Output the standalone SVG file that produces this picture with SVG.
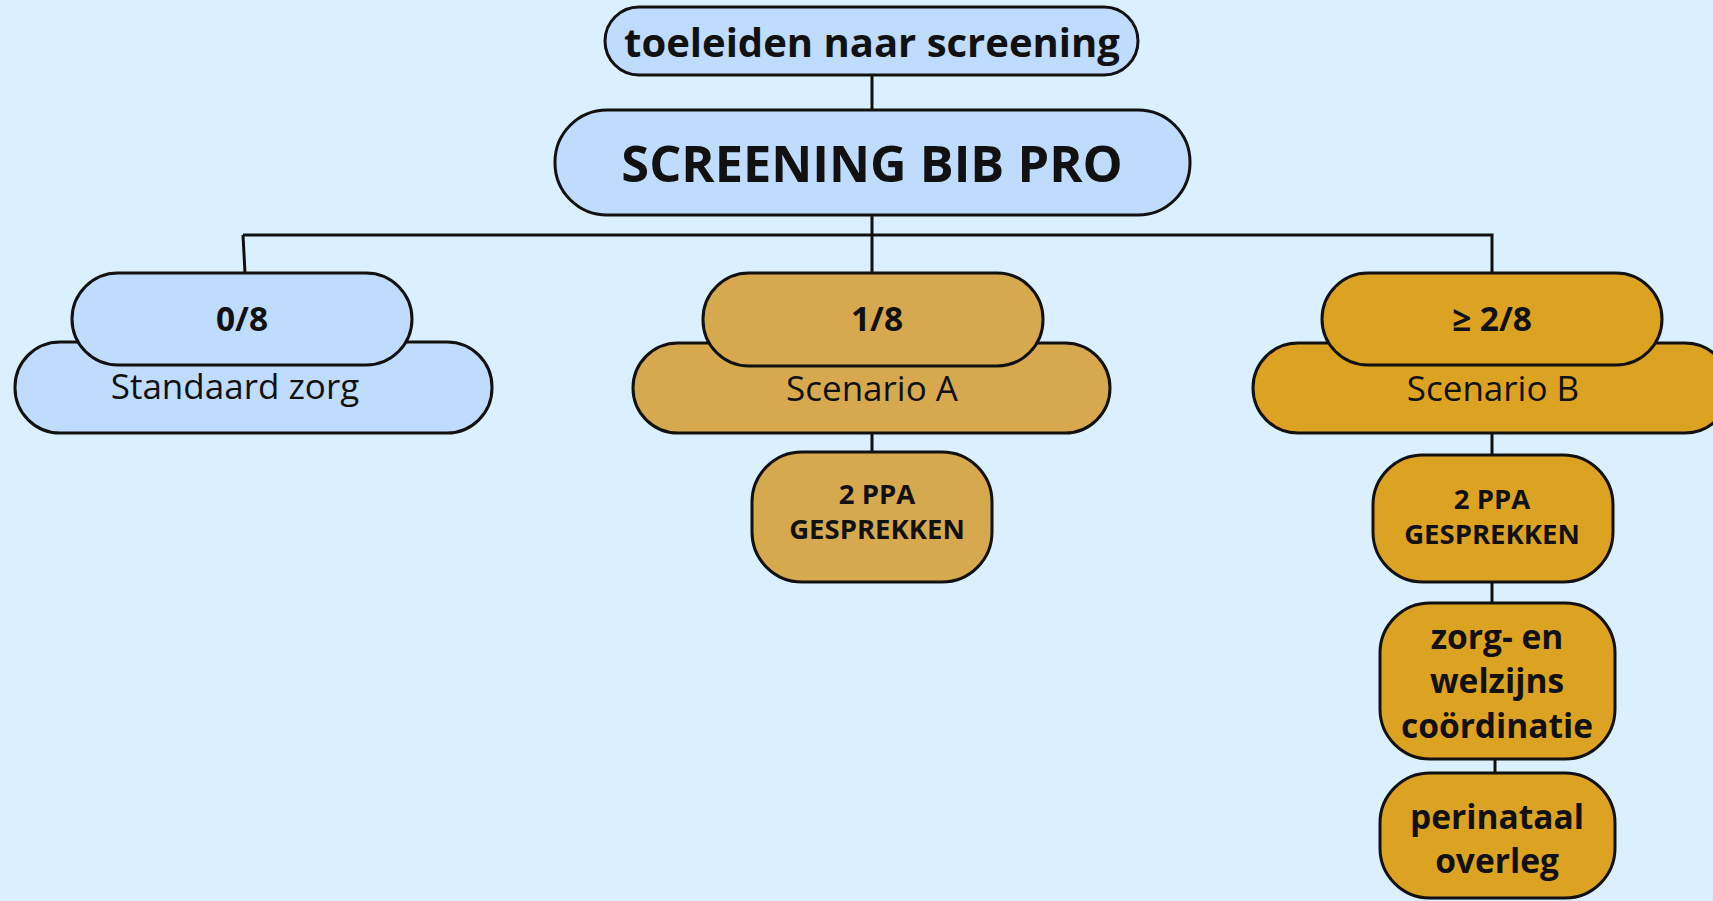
<svg xmlns="http://www.w3.org/2000/svg" width="1713" height="901" viewBox="0 0 1713 901">
<style>
.bg{fill:#daf0fe}
.blue{fill:#bfdbfd;stroke:#111;stroke-width:3}
.gA{fill:#d6a94f;stroke:#111;stroke-width:3}
.gB{fill:#dca221;stroke:#111;stroke-width:3}
.ln{fill:none;stroke:#111;stroke-width:3}
text{font-family:"Open Sans","Noto Sans","DejaVu Sans",sans-serif;fill:#111;text-anchor:middle}
.b{font-weight:700}
.r{font-weight:400}
</style>
<rect class="bg" x="0" y="0" width="1713" height="901"/>
<g id="connectors">
<path class="ln" d="M872 75V110"/>
<path class="ln" d="M872 215V235"/>
<path class="ln" d="M243 235H1492V273"/>
<path class="ln" d="M243 235L245 273"/>
<path class="ln" d="M872 235V273"/>
<path class="ln" d="M872 433V452"/>
<path class="ln" d="M1492 433V455"/>
<path class="ln" d="M1492 582V603"/>
<path class="ln" d="M1495 759V773"/>
</g>
<g id="node-toeleiden">
<rect class="blue" x="605" y="7" width="533" height="68" rx="34"/>
<text class="b" x="872" y="57" font-size="40">toeleiden naar screening</text>
</g>
<g id="node-screening">
<rect class="blue" x="555" y="110" width="635" height="105" rx="52"/>
<text class="b" x="872" y="182" font-size="50.5">SCREENING BIB PRO</text>
</g>
<g id="node-standaard">
<rect class="blue" x="15" y="342" width="477" height="91" rx="45"/>
<text class="r" x="235" y="399" font-size="35">Standaard zorg</text>
</g>
<g id="node-08">
<rect class="blue" x="72" y="273" width="340" height="92" rx="46"/>
<text class="b" x="242" y="331" font-size="33.5">0/8</text>
</g>
<g id="node-scenarioA">
<rect class="gA" x="633" y="343" width="477" height="90" rx="45"/>
<text class="r" x="872" y="401" font-size="35">Scenario A</text>
</g>
<g id="node-18">
<rect class="gA" x="703" y="273" width="340" height="93" rx="46"/>
<text class="b" x="877" y="331" font-size="33.5">1/8</text>
</g>
<g id="node-ppaA">
<rect class="gA" x="752" y="452" width="240" height="130" rx="50"/>
<text class="b" x="877" y="504" font-size="27.5">2 PPA</text>
<text class="b" x="877" y="539" font-size="27.5">GESPREKKEN</text>
</g>
<g id="node-scenarioB">
<rect class="gB" x="1253" y="343" width="477" height="90" rx="45"/>
<text class="r" x="1493" y="401" font-size="35">Scenario B</text>
</g>
<g id="node-28">
<rect class="gB" x="1322" y="273" width="340" height="92" rx="46"/>
<text class="b" x="1492" y="331" font-size="33.5">≥ 2/8</text>
</g>
<g id="node-ppaB">
<rect class="gB" x="1373" y="455" width="240" height="127" rx="50"/>
<text class="b" x="1492" y="509" font-size="27.5">2 PPA</text>
<text class="b" x="1492" y="544" font-size="27.5">GESPREKKEN</text>
</g>
<g id="node-zorg">
<rect class="gB" x="1380" y="603" width="235" height="156" rx="50"/>
<text class="b" x="1497" y="649" font-size="33.5">zorg- en</text>
<text class="b" x="1497" y="693" font-size="33.5">welzijns</text>
<text class="b" x="1497" y="738" font-size="33.5">coördinatie</text>
</g>
<g id="node-perinataal">
<rect class="gB" x="1380" y="773" width="235" height="125" rx="50"/>
<text class="b" x="1497" y="829" font-size="33.5">perinataal</text>
<text class="b" x="1497" y="873" font-size="33.5">overleg</text>
</g>
</svg>
